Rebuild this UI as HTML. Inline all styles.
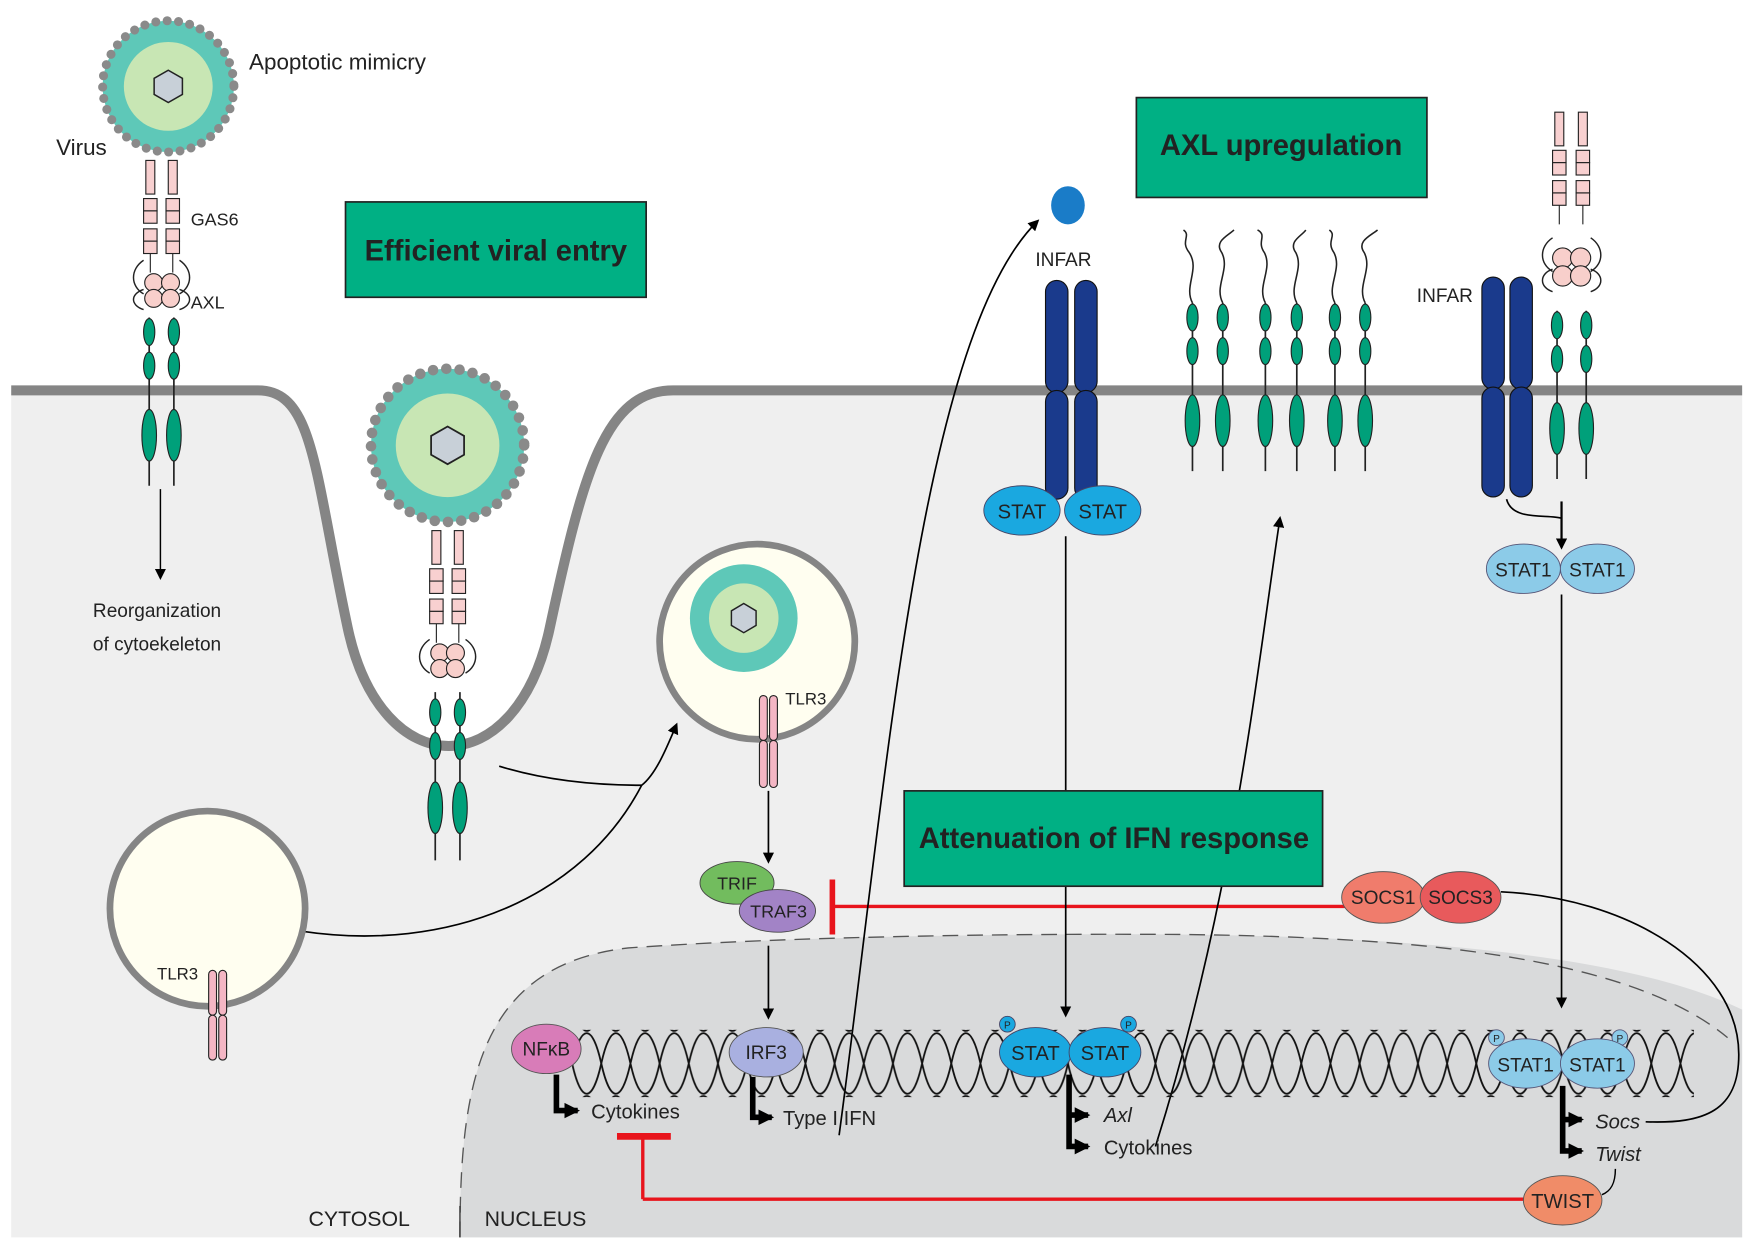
<!DOCTYPE html>
<html><head><meta charset="utf-8"><style>
html,body{margin:0;padding:0;background:#fff}
svg{display:block}
text{font-family:"Liberation Sans",Arial,sans-serif;fill:#222}
</style></head><body>
<svg width="1750" height="1248" viewBox="0 0 1560 1112.5" xmlns="http://www.w3.org/2000/svg">
<defs>
<marker id="ah" markerWidth="10" markerHeight="10" refX="8" refY="5" orient="auto" markerUnits="userSpaceOnUse"><path d="M0,0 L10,5 L0,10 z" fill="#000"/></marker>
<marker id="ahb" markerWidth="14" markerHeight="14" refX="12" refY="7" orient="auto" markerUnits="userSpaceOnUse"><path d="M0,0 L14,7 L0,14 z" fill="#000"/></marker>
<pattern id="dna" x="510" y="920" width="52" height="56" patternUnits="userSpaceOnUse">
<path d="M0,28 C8,-8 18,-8 26,28 C34,64 44,64 52,28" fill="none" stroke="#111" stroke-width="1.6"/>
<path d="M0,28 C8,64 18,64 26,28 C34,-8 44,-8 52,28" fill="none" stroke="#111" stroke-width="1.6"/>
</pattern>
<g id="virus">
<circle r="65" fill="#5ec8b8"/>
<circle r="65" fill="none" stroke="#8a8a8a" stroke-width="9" stroke-dasharray="0 11.3" stroke-linecap="round"/>
<circle r="44" fill="#c8e6b4"/>
<polygon points="0,-16 14,-8 14,8 0,16 -14,8 -14,-8" fill="#c8d0d8" stroke="#222" stroke-width="1.5"/>
</g>
<g id="gas">
<rect x="-4" y="0" width="8" height="30" fill="#f8d0d0" stroke="#222" stroke-width="1"/>
<rect x="-6" y="34" width="12" height="11" fill="#f8d0d0" stroke="#222" stroke-width="1"/>
<rect x="-6" y="45" width="12" height="11" fill="#f8d0d0" stroke="#222" stroke-width="1"/>
<rect x="-6" y="61" width="12" height="11" fill="#f8d0d0" stroke="#222" stroke-width="1"/>
<rect x="-6" y="72" width="12" height="11" fill="#f8d0d0" stroke="#222" stroke-width="1"/>
<line x1="0" y1="83" x2="0" y2="100" stroke="#222"/>
</g>
<g id="grn">
<line x1="0" y1="0" x2="0" y2="150" stroke="#222" stroke-width="1.5"/>
<ellipse cx="0" cy="13" rx="5" ry="12" fill="#00a07a" stroke="#222"/>
<ellipse cx="0" cy="43" rx="5" ry="12" fill="#00a07a" stroke="#222"/>
<ellipse cx="0" cy="105" rx="6.5" ry="23" fill="#00a07a" stroke="#222"/>
</g>
</defs>

<!-- cell -->
<path d="M10,348 L230,348 C280,348 280,420 310,560 C340,700 460,700 490,560 C520,420 540,348 600,348 L1553,348 L1553,1103 L10,1103 Z" fill="#efefef"/>
<path d="M410,1103 C410,960 430,860 560,845 C700,835 900,832 1050,833 C1250,835 1450,850 1553,900 L1553,1103 Z" fill="#d9dadb"/>
<path d="M410,1103 C410,960 430,860 560,845 C700,835 900,832 1050,833 C1250,835 1450,850 1540,925" fill="none" stroke="#555" stroke-width="1.2" stroke-dasharray="14 8"/>
<path d="M10,348 L230,348 C280,348 280,420 310,560 C340,700 460,700 490,560 C520,420 540,348 600,348 L1553,348" fill="none" stroke="#858585" stroke-width="9"/>

<!-- top-left virus & receptor -->
<use href="#virus" transform="translate(150,77) scale(0.9)"/>
<use href="#gas" x="134" y="143"/><use href="#gas" x="154" y="143"/>
<path d="M128,232 C116,240 116,255 128,262 M160,232 C172,240 172,255 160,262 M128,258 C116,262 116,272 128,276 M160,258 C172,262 172,272 160,276" fill="none" stroke="#222" stroke-width="1.3"/>
<circle cx="137" cy="252" r="8" fill="#f8cfcb" stroke="#222"/><circle cx="152" cy="252" r="8" fill="#f8cfcb" stroke="#222"/>
<circle cx="137" cy="266" r="8" fill="#f8cfcb" stroke="#222"/><circle cx="152" cy="266" r="8" fill="#f8cfcb" stroke="#222"/>
<use href="#grn" x="133" y="283"/><use href="#grn" x="155" y="283"/>
<line x1="143" y1="436" x2="143" y2="515" stroke="#000" stroke-width="1.3" marker-end="url(#ah)"/>
<text x="140" y="550" font-size="17" text-anchor="middle">Reorganization</text>
<text x="140" y="580" font-size="17" text-anchor="middle">of cytoekeleton</text>
<text x="222" y="62" font-size="20">Apoptotic mimicry</text>
<text x="50" y="138" font-size="20">Virus</text>
<text x="170" y="201" font-size="16">GAS6</text>
<text x="170" y="275" font-size="16">AXL</text>

<rect x="308" y="180" width="268" height="85" fill="#00b084" stroke="#222" stroke-width="1.5"/>
<text x="442" y="232" font-size="26" font-weight="bold" text-anchor="middle" fill="#000">Efficient viral entry</text>

<!-- invagination virus -->
<use href="#virus" transform="translate(399,397) scale(1.05)"/>
<use href="#gas" x="389" y="473"/><use href="#gas" x="409" y="473"/>
<path d="M383,570 C371,578 371,593 383,600 M415,570 C427,578 427,593 415,600" fill="none" stroke="#222" stroke-width="1.3"/>
<circle cx="392" cy="582" r="8" fill="#f8cfcb" stroke="#222"/><circle cx="406" cy="582" r="8" fill="#f8cfcb" stroke="#222"/>
<circle cx="392" cy="596" r="8" fill="#f8cfcb" stroke="#222"/><circle cx="406" cy="596" r="8" fill="#f8cfcb" stroke="#222"/>
<g transform="translate(388,617)"><line x1="0" y1="0" x2="0" y2="150" stroke="#222" stroke-width="1.5"/><ellipse cx="0" cy="18" rx="5" ry="12" fill="#00a07a" stroke="#222"/><ellipse cx="0" cy="48" rx="5" ry="12" fill="#00a07a" stroke="#222"/><ellipse cx="0" cy="103" rx="6.5" ry="23" fill="#00a07a" stroke="#222"/></g>
<g transform="translate(410,617)"><line x1="0" y1="0" x2="0" y2="150" stroke="#222" stroke-width="1.5"/><ellipse cx="0" cy="18" rx="5" ry="12" fill="#00a07a" stroke="#222"/><ellipse cx="0" cy="48" rx="5" ry="12" fill="#00a07a" stroke="#222"/><ellipse cx="0" cy="103" rx="6.5" ry="23" fill="#00a07a" stroke="#222"/></g>

<!-- connectors to endosome -->
<path d="M445,683 C500,700 555,700 572,700 C585,690 595,665 603,646" fill="none" stroke="#000" stroke-width="1.5" marker-end="url(#ah)"/>
<path d="M268,830 C400,850 520,800 572,700" fill="none" stroke="#000" stroke-width="1.5"/>

<!-- endosome -->
<circle cx="675" cy="572" r="87" fill="#fffef0" stroke="#858585" stroke-width="6"/>
<circle cx="663" cy="551" r="48" fill="#5ec8b8"/><circle cx="663" cy="551" r="31" fill="#c8e6b4"/>
<polygon points="663,538 674,544.5 674,557.5 663,564 652,557.5 652,544.5" fill="#c8d0d8" stroke="#222" stroke-width="1.3"/>
<rect x="677" y="620" width="7" height="40" rx="3.5" fill="#f4b6c4" stroke="#222"/><rect x="686" y="620" width="7" height="40" rx="3.5" fill="#f4b6c4" stroke="#222"/>
<rect x="677" y="660" width="7" height="42" rx="3.5" fill="#f4b6c4" stroke="#222"/><rect x="686" y="660" width="7" height="42" rx="3.5" fill="#f4b6c4" stroke="#222"/>
<text x="700" y="628" font-size="15">TLR3</text>

<circle cx="185" cy="810" r="87" fill="#fffef0" stroke="#858585" stroke-width="6"/>
<rect x="186" y="865" width="7" height="40" rx="3.5" fill="#f4b6c4" stroke="#222"/><rect x="195" y="865" width="7" height="40" rx="3.5" fill="#f4b6c4" stroke="#222"/>
<rect x="186" y="905" width="7" height="40" rx="3.5" fill="#f4b6c4" stroke="#222"/><rect x="195" y="905" width="7" height="40" rx="3.5" fill="#f4b6c4" stroke="#222"/>
<text x="140" y="873" font-size="15">TLR3</text>

<!-- TRIF/TRAF3 -->
<line x1="685" y1="705" x2="685" y2="768" stroke="#000" stroke-width="1.5" marker-end="url(#ah)"/>
<ellipse cx="657" cy="787" rx="33" ry="19" fill="#72bc5e" stroke="#444" stroke-width=".8"/>
<text x="657" y="793" font-size="16" text-anchor="middle">TRIF</text>
<ellipse cx="693" cy="812" rx="34" ry="19" fill="#a283c6" stroke="#444" stroke-width=".8"/>
<text x="694" y="818" font-size="16" text-anchor="middle">TRAF3</text>
<line x1="685" y1="843" x2="685" y2="907" stroke="#000" stroke-width="1.5" marker-end="url(#ah)"/>

<!-- red inhibition -->
<line x1="1200" y1="808" x2="742" y2="808" stroke="#e8141c" stroke-width="3"/>
<line x1="742" y1="784" x2="742" y2="833" stroke="#e8141c" stroke-width="5"/>
<ellipse cx="1233" cy="800" rx="37" ry="23" fill="#f07c6c" stroke="#555" stroke-width=".8"/>
<text x="1233" y="806" font-size="17" text-anchor="middle">SOCS1</text>
<ellipse cx="1302" cy="800" rx="36" ry="23" fill="#e85a5c" stroke="#555" stroke-width=".8"/>
<text x="1302" y="806" font-size="17" text-anchor="middle">SOCS3</text>
<path d="M1338,795 C1450,800 1550,860 1550,940 C1550,990 1520,1002 1467,1000" fill="none" stroke="#000" stroke-width="1.5"/>

<!-- boxes -->
<rect x="1013" y="87" width="259" height="89" fill="#00b084" stroke="#222" stroke-width="1.5"/>
<text x="1142" y="138" font-size="26" font-weight="bold" text-anchor="middle" fill="#000">AXL upregulation</text>

<!-- IFN curve -->
<path d="M748,1012 C790,700 820,300 925,197" fill="none" stroke="#000" stroke-width="1.5" marker-end="url(#ah)"/>
<ellipse cx="952" cy="183" rx="15" ry="17" fill="#1a7cc8"/>
<text x="948" y="237" font-size="17" text-anchor="middle">INFAR</text>
<rect x="932" y="250" width="20" height="100" rx="10" fill="#1a3a8c" stroke="#111"/>
<rect x="958" y="250" width="20" height="100" rx="10" fill="#1a3a8c" stroke="#111"/>
<rect x="932" y="348" width="20" height="97" rx="10" fill="#1a3a8c" stroke="#111"/>
<rect x="958" y="348" width="20" height="97" rx="10" fill="#1a3a8c" stroke="#111"/>
<ellipse cx="911" cy="455" rx="34" ry="22" fill="#1aa8e0" stroke="#446" stroke-width=".8"/>
<ellipse cx="983" cy="455" rx="34" ry="22" fill="#1aa8e0" stroke="#446" stroke-width=".8"/>
<text x="911" y="462" font-size="18" text-anchor="middle">STAT</text>
<text x="983" y="462" font-size="18" text-anchor="middle">STAT</text>
<line x1="950" y1="478" x2="950" y2="705" stroke="#000" stroke-width="1.5"/>
<line x1="950" y1="790" x2="950" y2="905" stroke="#000" stroke-width="1.5" marker-end="url(#ah)"/>

<!-- AXL receptors -->
<g fill="none" stroke="#222" stroke-width="1.4">
<path d="M1063,270 C1055,255 1070,240 1060,225 C1052,215 1062,210 1055,205"/>
<path d="M1090,270 C1082,255 1097,240 1089,225 C1082,215 1095,210 1100,205"/>
<path d="M1128,270 C1120,255 1135,240 1127,225 C1120,215 1130,210 1121,205"/>
<path d="M1156,270 C1148,255 1163,240 1155,225 C1148,215 1161,210 1164,205"/>
<path d="M1190,270 C1182,255 1197,240 1189,225 C1182,215 1192,210 1185,205"/>
<path d="M1217,270 C1209,255 1224,240 1216,225 C1209,215 1222,210 1228,205"/>
</g>
<use href="#grn" x="1063" y="270"/><use href="#grn" x="1090" y="270"/>
<use href="#grn" x="1128" y="270"/><use href="#grn" x="1156" y="270"/>
<use href="#grn" x="1190" y="270"/><use href="#grn" x="1217" y="270"/>
<path d="M1030,1022 C1100,800 1120,600 1141,462" fill="none" stroke="#000" stroke-width="1.5" marker-end="url(#ah)"/>

<rect x="806" y="705" width="373" height="85" fill="#00b084" stroke="#222" stroke-width="1.5"/>
<text x="993" y="756" font-size="26" font-weight="bold" text-anchor="middle" fill="#000">Attenuation of IFN response</text>

<!-- right receptor -->
<use href="#gas" x="1390" y="100"/><use href="#gas" x="1411" y="100"/>
<path d="M1384,212 C1372,220 1372,235 1384,242 M1418,212 C1430,220 1430,235 1418,242 M1384,240 C1372,244 1372,256 1384,260 M1418,240 C1430,244 1430,256 1418,260" fill="none" stroke="#222" stroke-width="1.3"/>
<circle cx="1393" cy="230" r="9" fill="#f8cfcb" stroke="#222"/><circle cx="1409" cy="230" r="9" fill="#f8cfcb" stroke="#222"/>
<circle cx="1393" cy="246" r="9" fill="#f8cfcb" stroke="#222"/><circle cx="1409" cy="246" r="9" fill="#f8cfcb" stroke="#222"/>
<use href="#grn" x="1388" y="277"/><use href="#grn" x="1414" y="277"/>
<text x="1288" y="269" font-size="17" text-anchor="middle">INFAR</text>
<rect x="1321" y="247" width="20" height="100" rx="10" fill="#1a3a8c" stroke="#111"/>
<rect x="1346" y="247" width="20" height="100" rx="10" fill="#1a3a8c" stroke="#111"/>
<rect x="1321" y="345" width="20" height="98" rx="10" fill="#1a3a8c" stroke="#111"/>
<rect x="1346" y="345" width="20" height="98" rx="10" fill="#1a3a8c" stroke="#111"/>
<path d="M1343,445 C1348,465 1380,458 1392,462" fill="none" stroke="#000" stroke-width="1.5"/>
<line x1="1392" y1="447" x2="1392" y2="488" stroke="#000" stroke-width="2" marker-end="url(#ah)"/>
<ellipse cx="1358" cy="507" rx="33" ry="22" fill="#8ccbe8" stroke="#557" stroke-width=".8"/>
<ellipse cx="1424" cy="507" rx="33" ry="22" fill="#8ccbe8" stroke="#557" stroke-width=".8"/>
<text x="1358" y="514" font-size="17" text-anchor="middle">STAT1</text>
<text x="1424" y="514" font-size="17" text-anchor="middle">STAT1</text>
<line x1="1392" y1="530" x2="1392" y2="897" stroke="#000" stroke-width="1.5" marker-end="url(#ah)"/>

<!-- DNA -->
<rect x="510" y="918" width="1000" height="60" fill="url(#dna)"/>
<ellipse cx="487" cy="935" rx="31" ry="22" fill="#d87cb8" stroke="#555" stroke-width=".8"/>
<text x="487" y="941" font-size="17" text-anchor="middle">NFκB</text>
<ellipse cx="683" cy="938" rx="33" ry="22" fill="#a9b0e0" stroke="#555" stroke-width=".8"/>
<text x="683" y="944" font-size="17" text-anchor="middle">IRF3</text>
<circle cx="898" cy="913" r="7" fill="#1aa8e0" stroke="#446" stroke-width=".8"/><text x="898" y="917" font-size="9" text-anchor="middle">P</text>
<circle cx="1006" cy="913" r="7" fill="#1aa8e0" stroke="#446" stroke-width=".8"/><text x="1006" y="917" font-size="9" text-anchor="middle">P</text>
<ellipse cx="923" cy="938" rx="32" ry="22" fill="#1aa8e0" stroke="#446" stroke-width=".8"/>
<ellipse cx="985" cy="938" rx="32" ry="22" fill="#1aa8e0" stroke="#446" stroke-width=".8"/>
<text x="923" y="945" font-size="18" text-anchor="middle">STAT</text>
<text x="985" y="945" font-size="18" text-anchor="middle">STAT</text>
<circle cx="1334" cy="925" r="7" fill="#8ccbe8" stroke="#557" stroke-width=".8"/><text x="1334" y="929" font-size="9" text-anchor="middle">P</text>
<circle cx="1444" cy="925" r="7" fill="#8ccbe8" stroke="#557" stroke-width=".8"/><text x="1444" y="929" font-size="9" text-anchor="middle">P</text>
<ellipse cx="1360" cy="948" rx="33" ry="22" fill="#8ccbe8" stroke="#557" stroke-width=".8"/>
<ellipse cx="1424" cy="948" rx="33" ry="22" fill="#8ccbe8" stroke="#557" stroke-width=".8"/>
<text x="1360" y="955" font-size="17" text-anchor="middle">STAT1</text>
<text x="1424" y="955" font-size="17" text-anchor="middle">STAT1</text>

<!-- bent arrows -->
<g fill="none" stroke="#000" stroke-width="5">
<path d="M496,958 L496,990 L515,990" marker-end="url(#ahb)"/>
<path d="M671,960 L671,996 L688,996" marker-end="url(#ahb)"/>
<path d="M953,958 L953,1022 L970,1022" marker-end="url(#ahb)"/>
<path d="M953,994 L970,994" marker-end="url(#ahb)"/>
<path d="M1393,968 L1393,1026 L1410,1026" marker-end="url(#ahb)"/>
<path d="M1393,998 L1410,998" marker-end="url(#ahb)"/>
</g>
<text x="527" y="997" font-size="18">Cytokines</text>
<text x="698" y="1003" font-size="18">Type I IFN</text>
<text x="984" y="1000" font-size="18" font-style="italic">Axl</text>
<text x="984" y="1029" font-size="18">Cytokines</text>
<text x="1422" y="1006" font-size="18" font-style="italic">Socs</text>
<text x="1422" y="1035" font-size="18" font-style="italic">Twist</text>

<!-- TWIST -->
<line x1="1358" y1="1069" x2="573" y2="1069" stroke="#e8141c" stroke-width="3"/>
<line x1="573" y1="1069" x2="573" y2="1013" stroke="#e8141c" stroke-width="3"/>
<line x1="550" y1="1013" x2="598" y2="1013" stroke="#e8141c" stroke-width="6"/>
<ellipse cx="1393" cy="1070" rx="35" ry="22" fill="#f08c68" stroke="#555" stroke-width=".8"/>
<text x="1393" y="1077" font-size="18" text-anchor="middle">TWIST</text>
<path d="M1440,1042 C1440,1055 1436,1062 1428,1065" fill="none" stroke="#000" stroke-width="1.3"/>

<text x="275" y="1093" font-size="19">CYTOSOL</text>
<line x1="410" y1="1075" x2="410" y2="1103" stroke="#333" stroke-width="1.2"/>
<text x="432" y="1093" font-size="19">NUCLEUS</text>
</svg>
</body></html>
